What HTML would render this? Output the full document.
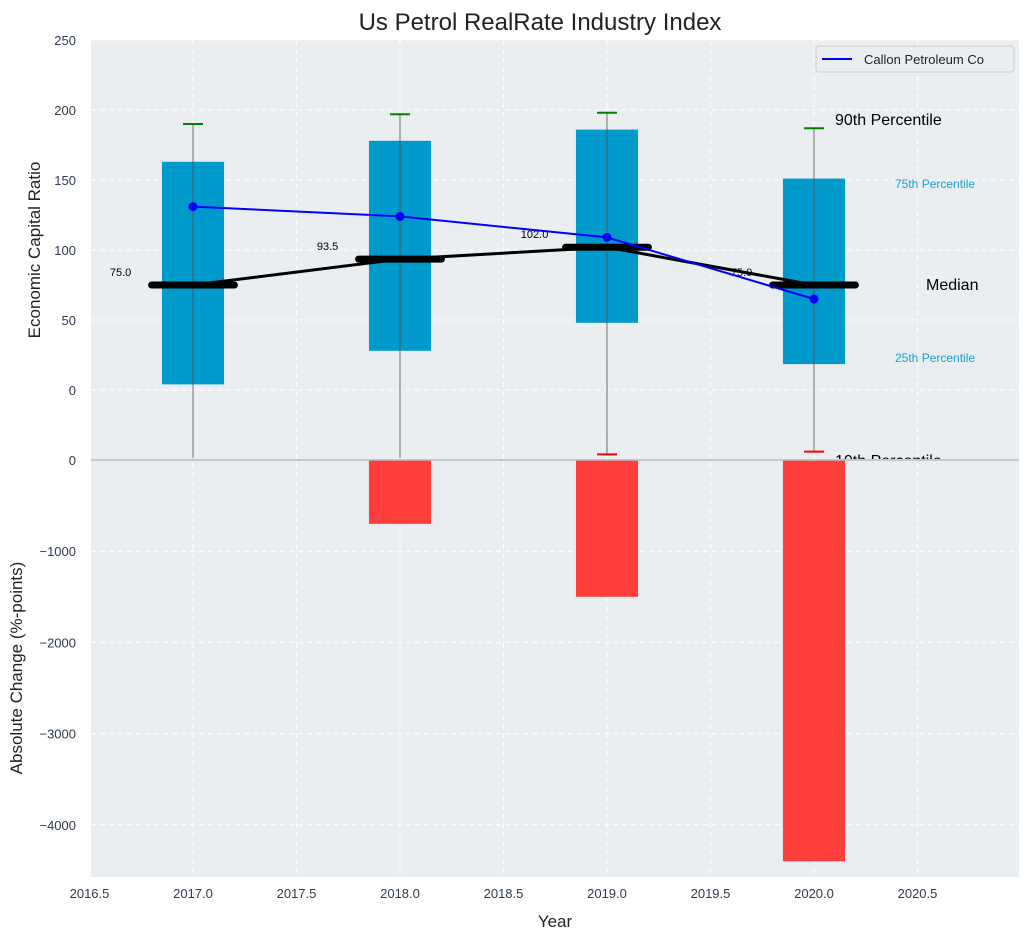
<!DOCTYPE html>
<html><head><meta charset="utf-8"><style>
body{margin:0;background:#fff;font-family:"Liberation Sans",sans-serif}
svg text{font-family:"Liberation Sans",sans-serif}
</style></head><body>
<svg id="chart" width="1029" height="940" xmlns="http://www.w3.org/2000/svg">
<defs><clipPath id="topclip"><rect x="0" y="0" width="1029" height="459"/></clipPath></defs>
<rect x="91" y="40" width="928" height="837" fill="#eaeef0"/>
<g id="grid"></g><g id="marks"></g><g id="axes"></g>
</svg>
<script>
const years=[2017,2018,2019,2020];
const p90=[190,197,198,187];
const p75=[163,178,186,151];
const median=[75,93.5,102,75];
const p25=[4,28,48,18.5];
const p10=[-50,-50,-46,-44];
const callon=[131,124,109,65];
const changeYears=[2018,2019,2020];
const changes=[-700,-1500,-4400];
const xTicks=[2016.5,2017,2017.5,2018,2018.5,2019,2019.5,2020,2020.5];
const yTopTicks=[0,50,100,150,200,250];
const yBotTicks=[0,-1000,-2000,-3000,-4000];

const NS='http://www.w3.org/2000/svg';
const X=v=>193+(v-2017)*207;
const Y=v=>390-1.4*v;
const YB=v=>460-v*0.0912;
function mk(parent,tag,attrs,txt){const e=document.createElementNS(NS,tag);for(const k in attrs)e.setAttribute(k,attrs[k]);if(txt!==undefined)e.textContent=txt;document.getElementById(parent).appendChild(e);return e;}

xTicks.forEach(t=>{const l=mk('grid','line',{x1:X(t),x2:X(t),y1:40,y2:877,stroke:'#fff','stroke-dasharray':'5,4','stroke-width':1});

});
yTopTicks.forEach(t=>{const l=mk('grid','line',{x1:91,x2:1019,y1:Y(t),y2:Y(t),stroke:'#fff','stroke-dasharray':'5,4'});

});
yBotTicks.forEach(t=>{if(t===0)return;const l=mk('grid','line',{x1:91,x2:1019,y1:YB(t),y2:YB(t),stroke:'#fff','stroke-dasharray':'5,4'});

});

const bw=0.3*207;
years.forEach((yr,i)=>{
 const b=mk('marks','rect',{x:X(yr)-bw/2,y:Y(p75[i]),width:bw,height:Y(p25[i])-Y(p75[i]),fill:'#0099cc'});
 
 
 const w=mk('marks','line',{x1:X(yr),x2:X(yr),y1:Y(p90[i]),y2:Math.min(Y(p10[i]),458),stroke:'#555','stroke-opacity':0.7,'stroke-width':1.2});
 
 
 const c1=mk('marks','line',{x1:X(yr)-10,x2:X(yr)+10,y1:Y(p90[i]),y2:Y(p90[i]),stroke:'#008000','stroke-width':2});
 
 
 if(Y(p10[i])<459){const c2=mk('marks','line',{x1:X(yr)-10,x2:X(yr)+10,y1:Y(p10[i]),y2:Y(p10[i]),stroke:'#ff0000','stroke-width':2});
 
 }
});
changeYears.forEach((yr,i)=>{
 const r=mk('marks','rect',{x:X(yr)-bw/2,y:460,width:bw,height:YB(changes[i])-460,fill:'#ff3333','fill-opacity':0.95});
 
 
});
const ml=mk('marks','polyline',{points:years.map((y,i)=>X(y)+','+Y(median[i])).join(' '),fill:'none',stroke:'#000','stroke-width':3});


years.forEach((yr,i)=>{
 const m=mk('marks','line',{x1:X(yr)-0.2*207,x2:X(yr)+0.2*207,y1:Y(median[i]),y2:Y(median[i]),stroke:'#000','stroke-width':7,'stroke-linecap':'round'});
 
 
 const t=mk('marks','text',{x:X(yr)-0.35*207,y:Y(median[i])-9,'font-size':11,'text-anchor':'middle',fill:'#000'},median[i].toFixed(1));
 
 
});
const cl=mk('marks','polyline',{points:years.map((y,i)=>X(y)+','+Y(callon[i])).join(' '),fill:'none',stroke:'#0000ff','stroke-width':2});


years.forEach((yr,i)=>{const c=mk('marks','circle',{cx:X(yr),cy:Y(callon[i]),r:4.5,fill:'#0000ff'});

});
const ann=[['90th Percentile',835,125,16,'#000'],['75th Percentile',895,188,12,'#1a9fd0'],['Median',926,290,16,'#000'],['25th Percentile',895,362,12,'#1a9fd0'],['10th Percentile',835,466,16,'#000']];
ann.forEach(a=>{const t=mk('marks','text',{x:a[1],y:a[2],'font-size':a[3],fill:a[4],'clip-path':'url(#topclip)'},a[0]);

});
const sep=mk('axes','line',{x1:91,x2:1019,y1:460,y2:460,stroke:'#bbb','stroke-width':1.5});


xTicks.forEach(t=>{const e=mk('axes','text',{x:X(t),y:898,'font-size':13,'text-anchor':'middle',fill:'#2e3b4e'},t.toFixed(1));

});
yTopTicks.forEach(t=>{const e=mk('axes','text',{x:76,y:Y(t)+5,'font-size':13,'text-anchor':'end',fill:'#2e3b4e'},String(t));

});
yBotTicks.forEach(t=>{const e=mk('axes','text',{x:76,y:YB(t)+5,'font-size':13,'text-anchor':'end',fill:'#2e3b4e'},t<0?'\u2212'+(-t):String(t));

});
</script>
<svg style="position:absolute;left:0;top:0" width="1029" height="940" xmlns="http://www.w3.org/2000/svg">
<text x="540" y="30" font-size="24" text-anchor="middle" fill="#222">Us Petrol RealRate Industry Index</text>
<text x="555" y="927" font-size="17" text-anchor="middle" fill="#222">Year</text>
<text transform="translate(40,250) rotate(-90)" font-size="17" text-anchor="middle" fill="#222">Economic Capital Ratio</text>
<text transform="translate(22,668) rotate(-90)" font-size="17" text-anchor="middle" fill="#222">Absolute Change (%-points)</text>
<g>
<rect x="816" y="46" width="198" height="26" rx="3" fill="#eaeef0" stroke="#ccc"/>
<line x1="822" x2="852" y1="59" y2="59" stroke="#0000ff" stroke-width="2"/>
<text x="864" y="64" font-size="13" fill="#222">Callon Petroleum Co</text>
</g>
</svg>
</body></html>
